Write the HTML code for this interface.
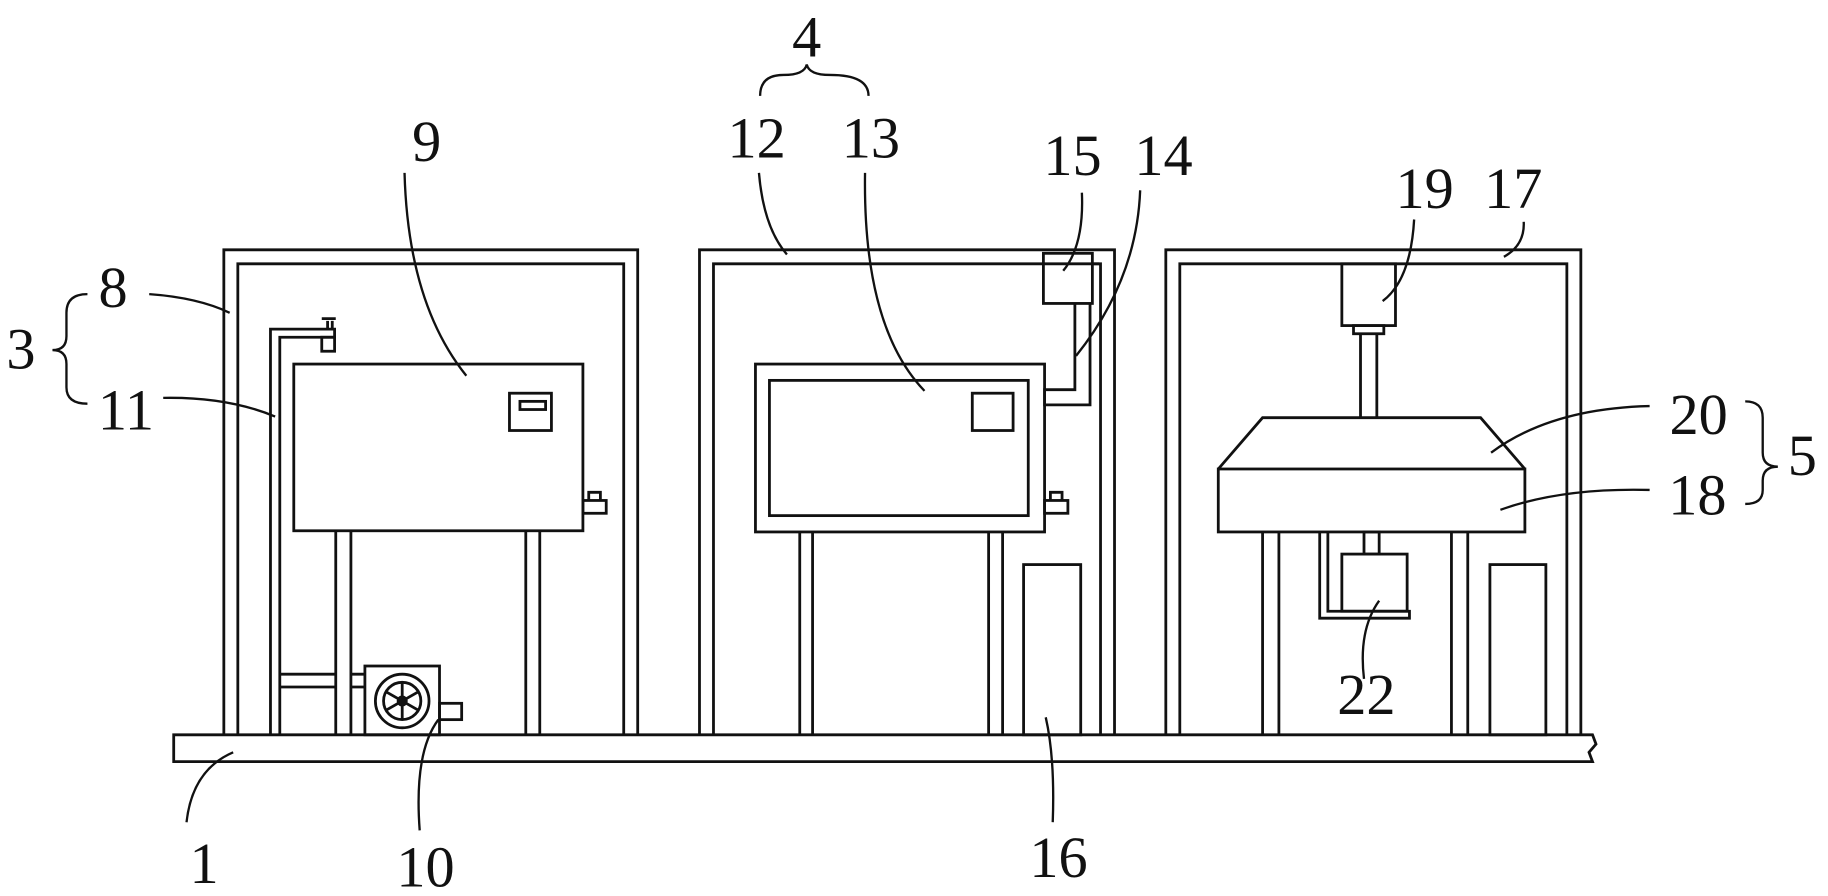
<!DOCTYPE html>
<html><head><meta charset="utf-8"><style>
html,body{margin:0;padding:0;background:#fff;}
svg{display:block;}
text{font-family:"Liberation Serif","Noto Serif CJK SC",serif;font-size:50px;fill:#111;text-anchor:middle;}
</style></head><body>
<svg width="1828" height="896" viewBox="0 0 1568 768" xmlns="http://www.w3.org/2000/svg">
<g fill="none" stroke="#111" stroke-width="2.4">
<!-- base -->
<path d="M1366 630 H149 V653 H1366 L1363 645 L1369 638 Z"/>
<!-- frames -->
<path d="M192 630 V214 H547 V630 M204 630 V226 H535 V630"/>
<path d="M600 630 V214 H956 V630 M612 630 V226 H944 V630"/>
<path d="M1000 630 V214 H1356 V630 M1012 630 V226 H1344 V630"/>
<!-- frame 1 contents -->
<rect x="252" y="312" width="248" height="143"/>
<rect x="437" y="337" width="36" height="32"/>
<rect x="446" y="344" width="22" height="7"/>
<rect x="500" y="429" width="20" height="11"/>
<path d="M505 429 V422 H515 V429"/>
<path d="M288 455 V630 M301 455 V630 M451 455 V630 M463 455 V630"/>
<path d="M232 630 V282 H287 V289 H240 V630"/>
<rect x="276" y="289" width="11" height="12"/>
<path d="M281 282 V275 M285 282 V275 M276 273 H288"/>
<path d="M240 578 H288 M240 589 H288 M301 578 H313 M301 589 H313"/>
<rect x="313" y="571" width="64" height="59"/>
<circle cx="345" cy="601" r="23"/>
<circle cx="345" cy="601" r="16"/>
<circle cx="345" cy="601" r="3.5"/>
<path d="M345 585 V617 M331 593 L359 609 M331 609 L359 593"/>
<rect x="377" y="603" width="19" height="14"/>
<!-- frame 2 contents -->
<rect x="648" y="312" width="248" height="144"/>
<rect x="660" y="326" width="222" height="116"/>
<rect x="834" y="337" width="35" height="32"/>
<rect x="896" y="429" width="20" height="11"/>
<path d="M901 429 V422 H911 V429"/>
<path d="M686 456 V630 M697 456 V630 M848 456 V630 M860 456 V630"/>
<rect x="878" y="484" width="49" height="146"/>
<rect x="895" y="217" width="42" height="43"/>
<path d="M922 260 V334 H896 V347 H935 V260"/>
<path d="M937 226 H943"/>
<!-- frame 3 contents -->
<rect x="1151" y="226" width="46" height="53"/>
<rect x="1161" y="279" width="26" height="7"/>
<path d="M1167 286 V358 M1181 286 V358"/>
<path d="M1045 402 L1083 358 H1270 L1308 402"/>
<rect x="1045" y="402" width="263" height="54"/>
<path d="M1083 456 V630 M1097 456 V630 M1245 456 V630 M1259 456 V630"/>
<rect x="1278" y="484" width="48" height="146"/>
<path d="M1132 456 V530 H1209 V524 H1139 V456"/>
<rect x="1151" y="475" width="56" height="49"/>
<rect x="1170" y="456" width="13" height="19"/>
</g>
<!-- leaders -->
<g fill="none" stroke="#111" stroke-width="2">
<path d="M128 252 Q170 255 197 268"/>
<path d="M347 148 Q350 260 400 322"/>
<path d="M140 341 Q195 340 236 357"/>
<path d="M651 148 Q655 195 675 218"/>
<path d="M742 148 Q740 280 793 335"/>
<path d="M928 165 Q930 210 912 232"/>
<path d="M978 163 Q975 240 923 305"/>
<path d="M1213 188 Q1210 240 1186 258"/>
<path d="M1307 190 Q1308 210 1290 220"/>
<path d="M1415 348 Q1330 350 1279 388"/>
<path d="M1415 420 Q1340 418 1287 437"/>
<path d="M1170 582 Q1165 540 1183 515"/>
<path d="M160 705 Q165 660 200 645"/>
<path d="M360 712 Q355 645 376 617"/>
<path d="M903 705 Q905 650 897 615"/>
<!-- braces -->
<path d="M652 82 Q652 64 672 64 Q690 64 692 55 Q694 64 712 64 Q745 64 745 82"/>
<path d="M75 252 Q57 252 57 268 V288 Q57 300 45 300 Q57 300 57 312 V332 Q57 346 75 346"/>
<path d="M1497 344 Q1512 344 1512 358 V388 Q1512 400 1525 400 Q1512 400 1512 412 V420 Q1512 432 1497 432"/>
</g>
<g>
<text x="692" y="48">4</text>
<text x="649" y="135">12</text>
<text x="747" y="135">13</text>
<text x="920" y="150">15</text>
<text x="998" y="150">14</text>
<text x="1222" y="178">19</text>
<text x="1298" y="178">17</text>
<text x="366" y="138">9</text>
<text x="97" y="263">8</text>
<text x="18" y="316">3</text>
<text x="108" y="368">11</text>
<text x="1457" y="372">20</text>
<text x="1456" y="441">18</text>
<text x="1546" y="407">5</text>
<text x="1172" y="612">22</text>
<text x="175" y="757">1</text>
<text x="365" y="760">10</text>
<text x="908" y="752">16</text>
</g>
</svg>
</body></html>
